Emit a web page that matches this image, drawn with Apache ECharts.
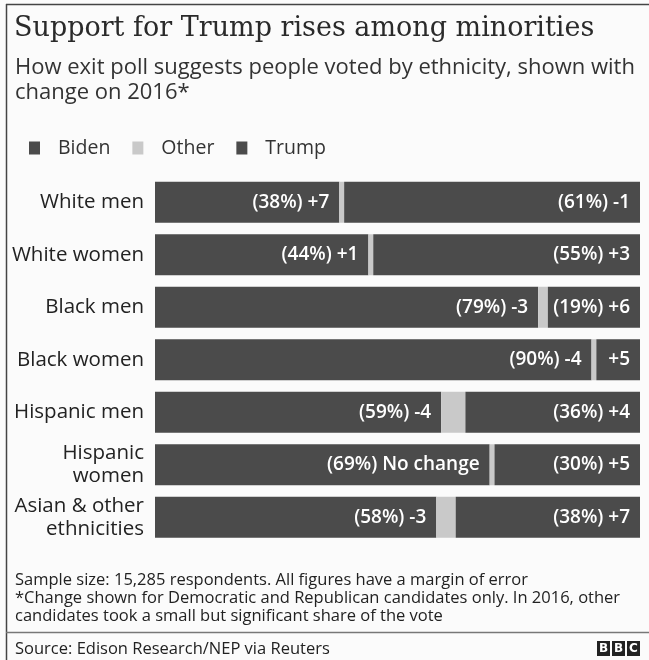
<!DOCTYPE html>
<html>
<head>
<meta charset="utf-8">
<script src="https://cdn.jsdelivr.net/npm/echarts@6/dist/echarts.min.js"></script>
<style>
  html, body { margin: 0; padding: 0; background: #fbfbfb; }
  #chart { width: 649px; height: 660px; }
</style>
</head>
<body>
<div id="chart"></div>
<script>
const categories = ['White men', 'White women', 'Black men', 'Black women', 'Hispanic men', 'Hispanic\nwomen', 'Asian & other\nethnicities'];
const bidenShare = [38, 44, 79, 90, 59, 69, 58];
const otherShare = [1, 1, 2, 1, 5, 1, 4];
const trumpShare = [61, 55, 19, 9, 36, 30, 38];
const bidenChange = ['+7', '+1', '-3', '-4', '-4', 'No change', '-3'];
const trumpChange = ['-1', '+3', '+6', '+5', '+4', '+5', '+7'];
const legendNames = ['Biden', 'Other', 'Trump'];

const FONT = '"Open Sans", "Noto Sans", sans-serif';
const DARK = '#4b4b4b';
const LIGHT = '#c9c9c9';

const chart = echarts.init(document.getElementById('chart'));

function lbl(shares, changes) {
  return function (p) {
    const v = shares[p.dataIndex];
    const c = changes[p.dataIndex];
    if (v < 12) return c;
    return '(' + v + '%) ' + c;
  };
}

const option = {
  backgroundColor: '#fbfbfb',
  animation: false,
  textStyle: { fontFamily: FONT },
  legend: {
    data: legendNames,
    left: 24,
    top: 133,
    icon: 'rect',
    itemWidth: 11,
    itemHeight: 13,
    itemGap: 22,
    selectedMode: false,
    textStyle: { fontSize: 19.5, color: '#333', fontFamily: FONT, padding: [0, 0, 0, 13] }
  },
  grid: { left: 155, right: 9, top: 176, height: 367.5, containLabel: false },
  xAxis: { type: 'value', min: 0, max: 100, show: false },
  yAxis: {
    type: 'category',
    data: categories,
    inverse: true,
    axisLine: { show: false },
    axisTick: { show: false },
    axisLabel: { fontSize: 20.5, color: '#222', margin: 11, lineHeight: 23, fontFamily: FONT, align: 'right' }
  },
  series: [
    {
      name: 'Biden', type: 'bar', stack: 'v', data: bidenShare, barWidth: 41,
      itemStyle: { color: DARK },
      label: { show: true, position: 'insideRight', distance: 10, color: '#fff', fontSize: 19, fontWeight: 600, fontFamily: FONT, formatter: lbl(bidenShare, bidenChange) }
    },
    {
      name: 'Other', type: 'bar', stack: 'v', data: otherShare, barWidth: 41,
      itemStyle: { color: LIGHT }
    },
    {
      name: 'Trump', type: 'bar', stack: 'v', data: trumpShare, barWidth: 41,
      itemStyle: { color: DARK },
      label: { show: true, position: 'insideRight', distance: 10, color: '#fff', fontSize: 19, fontWeight: 600, fontFamily: FONT, formatter: lbl(trumpShare, trumpChange) }
    }
  ],
  color: [DARK, LIGHT, DARK],
  graphic: [
    { type: 'line', shape: { x1: 6.5, y1: 4, x2: 6.5, y2: 660 }, style: { stroke: '#444', lineWidth: 1.5 } },
    { type: 'line', shape: { x1: 6, y1: 4.5, x2: 649, y2: 4.5 }, style: { stroke: '#444', lineWidth: 1.5 } },
    { type: 'text', x: 14, y: 29, style: { text: 'Support for Trump rises among minorities', font: '500 27px "DejaVu Serif", serif', fill: '#2a2a2a', verticalAlign: 'middle' } },
    { type: 'text', x: 15, y: 68, style: { text: 'How exit poll suggests people voted by ethnicity, shown with', fontSize: 22, fontFamily: FONT, fill: '#333', verticalAlign: 'middle' } },
    { type: 'text', x: 15, y: 93, style: { text: 'change on 2016*', fontSize: 22, fontFamily: FONT, fill: '#333', verticalAlign: 'middle' } },
    { type: 'text', x: 15, y: 580, style: { text: 'Sample size: 15,285 respondents. All figures have a margin of error', fontSize: 16.5, fontFamily: FONT, fill: '#222', verticalAlign: 'middle' } },
    { type: 'text', x: 15, y: 598, style: { text: '*Change shown for Democratic and Republican candidates only. In 2016, other', fontSize: 16.5, fontFamily: FONT, fill: '#222', verticalAlign: 'middle' } },
    { type: 'text', x: 15, y: 616, style: { text: 'candidates took a small but significant share of the vote', fontSize: 16.5, fontFamily: FONT, fill: '#222', verticalAlign: 'middle' } },
    { type: 'line', shape: { x1: 6, y1: 632.5, x2: 649, y2: 632.5 }, style: { stroke: '#777', lineWidth: 1.5 } },
    { type: 'text', x: 15, y: 649, style: { text: 'Source: Edison Research/NEP via Reuters', fontSize: 16.5, fontFamily: FONT, fill: '#222', verticalAlign: 'middle' } },
    { type: 'rect', shape: { x: 597, y: 641, width: 13, height: 15 }, style: { fill: '#222' } },
    { type: 'rect', shape: { x: 612, y: 641, width: 13, height: 15 }, style: { fill: '#222' } },
    { type: 'rect', shape: { x: 627, y: 641, width: 13, height: 15 }, style: { fill: '#222' } },
    { type: 'text', x: 603.5, y: 649, style: { text: 'B', font: 'bold 12px "DejaVu Sans", sans-serif', fill: '#fff', align: 'center', verticalAlign: 'middle' } },
    { type: 'text', x: 618.5, y: 649, style: { text: 'B', font: 'bold 12px "DejaVu Sans", sans-serif', fill: '#fff', align: 'center', verticalAlign: 'middle' } },
    { type: 'text', x: 633.5, y: 649, style: { text: 'C', font: 'bold 12px "DejaVu Sans", sans-serif', fill: '#fff', align: 'center', verticalAlign: 'middle' } }
  ]
};
chart.setOption(option);
</script>
</body>
</html>
